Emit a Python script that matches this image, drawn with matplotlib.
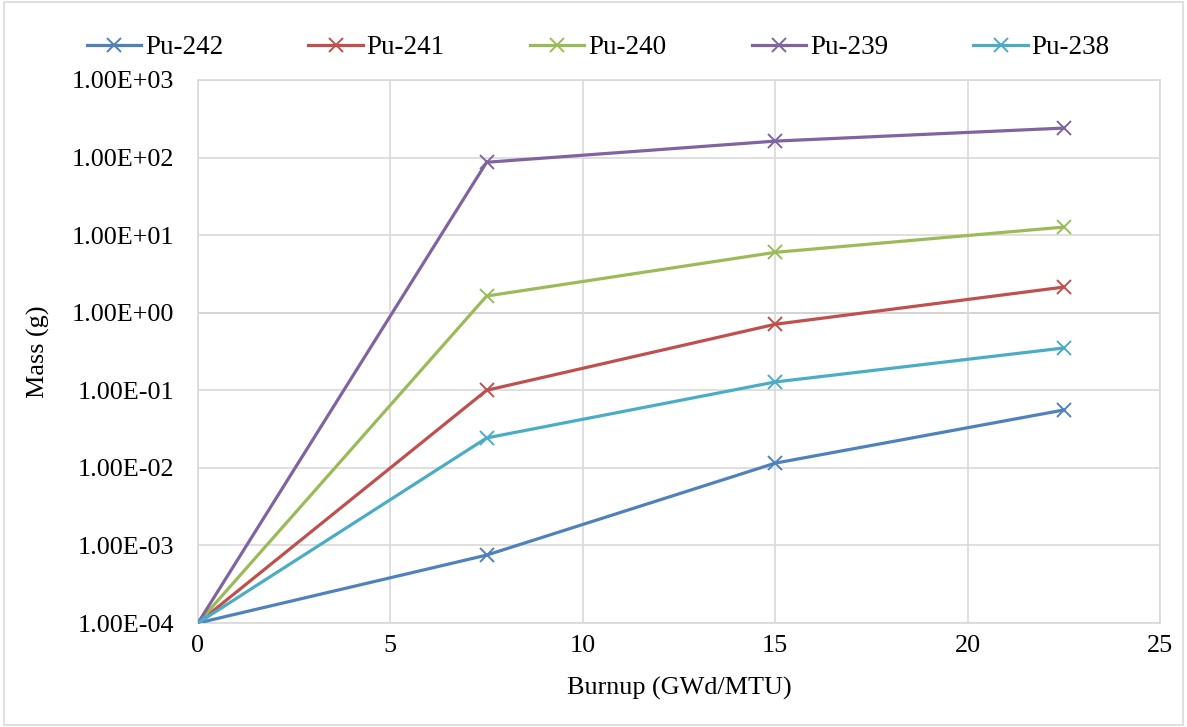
#!/usr/bin/env python3
# -*- coding: utf-8 -*-
"""Plutonium isotope mass vs. burnup (log scale), Excel-like style."""

import matplotlib
matplotlib.use("Agg")
import matplotlib.pyplot as plt
from matplotlib.patches import Rectangle
from matplotlib.ticker import FixedLocator, FuncFormatter

# ============== DATA ============== #
burnup = [0, 7.5, 15.0, 22.5]                      # GWd/MTU
isotopes = ["Pu-242", "Pu-241", "Pu-240", "Pu-239", "Pu-238"]
pu242 = [1e-4, 7.5e-4, 0.0115, 0.0557]
pu241 = [1e-4, 0.100, 0.71, 2.14]
pu240 = [1e-4, 1.64, 6.0, 12.7]
pu239 = [1e-4, 87.0, 163.0, 240.0]
pu238 = [1e-4, 0.0243, 0.128, 0.351]
colors = ["#4F81BD", "#C0504D", "#9BBB59", "#8064A2", "#4BACC6"]
y_ticks = [1e-4, 1e-3, 1e-2, 1e-1, 1e0, 1e1, 1e2, 1e3]
# ================================== #

FONT = ["Liberation Serif", "DejaVu Serif"]
plt.rcParams["font.family"] = FONT
FS = 18.8


def main() -> None:
    fig = plt.figure(figsize=(11.87, 7.27), dpi=100)
    ax = fig.add_axes([198 / 1187, 1 - 623 / 727, 962 / 1187, 543 / 727])

    series = [pu242, pu241, pu240, pu239, pu238]
    for name, vals, col in zip(isotopes, series, colors):
        ax.plot(burnup, vals, color=col, lw=2.3, marker="x",
                markersize=10, markeredgewidth=1.4, label=name, zorder=3)

    ax.set_yscale("log")
    ax.set_ylim(1e-4, 1e3)
    ax.set_xlim(0, 25)
    ax.set_xticks([0, 5, 10, 15, 20, 25])
    ax.yaxis.set_major_locator(FixedLocator(y_ticks))
    ax.yaxis.set_minor_locator(FixedLocator([]))
    ax.yaxis.set_major_formatter(FuncFormatter(lambda v, p: f"{v:.2E}"))

    ax.grid(True, color="#D9D9D9", lw=1.2, zorder=0)
    ax.axhline(1.0, color="#BFBFBF", lw=1.4, zorder=1)
    for s in ax.spines.values():
        s.set_color("#D9D9D9")
        s.set_linewidth(1.2)
    ax.tick_params(axis="x", length=0, labelsize=FS, pad=9)
    ax.tick_params(axis="y", length=0, labelsize=FS, pad=17)

    ax.set_xlabel("Burnup (GWd/MTU)", fontsize=FS, labelpad=14)
    ax.set_ylabel("Mass (g)", fontsize=FS, labelpad=16)

    fig.legend(loc="upper center", bbox_to_anchor=(0.504, 0.985), ncol=5,
               frameon=False, fontsize=19.5, handlelength=2.0,
               handletextpad=0.15, columnspacing=3.15)

    # light outer border like the Excel chart area
    fig.patches.append(Rectangle((0.003, 0.003), 0.994, 0.994,
                                 transform=fig.transFigure, fill=False,
                                 edgecolor="#D9D9D9", lw=1.2))

    fig.savefig("out.png", dpi=100)


if __name__ == "__main__":
    main()
